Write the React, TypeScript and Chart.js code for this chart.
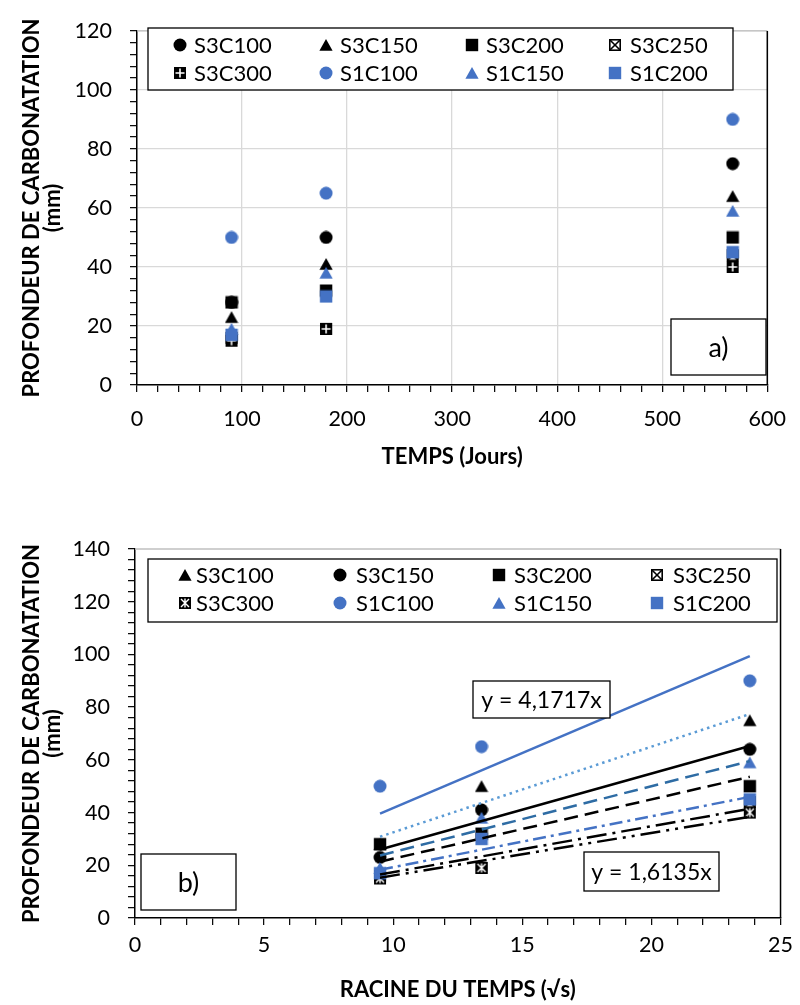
import React, { useEffect, useRef } from 'react';
import { Chart, registerables } from 'chart.js';

Chart.register(...registerables);

const FONT = 'Lato, "Open Sans", "DejaVu Sans", sans-serif';

// ---------- data ----------
const seriesNames = ['S3C100', 'S3C150', 'S3C200', 'S3C250', 'S3C300', 'S1C100', 'S1C150', 'S1C200'];
const timeDays = [90, 180, 567];
const rootTime = [9.49, 13.42, 23.81];

const s3c100 = [28, 50, 75];
const s3c150 = [23, 41, 64];
const s3c200 = [28, 32, 50];
const s3c250 = [16, 19, 44];
const s3c300 = [15, 19, 40];
const s1c100 = [50, 65, 90];
const s1c150 = [19, 38, 59];
const s1c200 = [17, 30, 45];
const seriesValues = [s3c100, s3c150, s3c200, s3c250, s3c300, s1c100, s1c150, s1c200];

// linear trend lines through origin (chart b)
const trendSlopes = [3.25, 2.74, 2.25, 1.74, 1.6135, 4.1717, 2.5, 1.93];

const xTickLabelsA = [0, 100, 200, 300, 400, 500, 600];
const yTickLabelsA = [0, 20, 40, 60, 80, 100, 120];
const xTickLabelsB = [0, 5, 10, 15, 20, 25];
const yTickLabelsB = [0, 20, 40, 60, 80, 100, 120, 140];

const BLUE = '#4472C4';
const seriesColors = ['#000', '#000', '#000', '#000', '#000', BLUE, BLUE, BLUE];
const markersA = ['circle', 'triangle', 'square', 'xbox', 'plusbox', 'circle', 'triangle', 'square'];
const markersB = ['triangle', 'circle', 'square', 'xbox', 'starbox', 'circle', 'triangle', 'square'];

const trendStyles = [
  { color: '#5B9BD5', dash: [2.5, 4] },
  { color: '#000000', dash: [] },
  { color: '#000000', dash: [14, 7] },
  { color: '#000000', dash: [20, 6, 3, 6] },
  { color: '#000000', dash: [20, 6, 3, 6, 3, 6] },
  { color: BLUE, dash: [] },
  { color: '#2E6CA4', dash: [14, 7] },
  { color: BLUE, dash: [13, 5, 3, 5] },
];

// ---------- markers ----------
function makeMarker(kind: string, color: string): HTMLCanvasElement {
  const S = 14;
  const c = document.createElement('canvas');
  c.width = S;
  c.height = S;
  const g = c.getContext('2d') as CanvasRenderingContext2D;
  const m = S / 2;
  g.fillStyle = color;
  g.strokeStyle = color;
  if (kind === 'circle') {
    g.beginPath();
    g.arc(m, m, 6.5, 0, Math.PI * 2);
    g.fill();
  } else if (kind === 'triangle') {
    g.beginPath();
    g.moveTo(m, 1);
    g.lineTo(13.6, 12.7);
    g.lineTo(0.4, 12.7);
    g.closePath();
    g.fill();
  } else if (kind === 'square') {
    g.fillRect(0.8, 0.8, 12.4, 12.4);
  } else if (kind === 'xbox') {
    g.fillStyle = '#fff';
    g.fillRect(1, 1, 12, 12);
    g.strokeStyle = '#000';
    g.lineWidth = 1.6;
    g.strokeRect(1.8, 1.8, 10.4, 10.4);
    g.beginPath();
    g.moveTo(2.2, 2.2);
    g.lineTo(11.8, 11.8);
    g.moveTo(11.8, 2.2);
    g.lineTo(2.2, 11.8);
    g.stroke();
  } else if (kind === 'plusbox') {
    g.fillStyle = '#000';
    g.fillRect(1, 1, 12, 12);
    g.strokeStyle = '#fff';
    g.lineWidth = 1.6;
    g.beginPath();
    g.moveTo(7, 2.5);
    g.lineTo(7, 11.5);
    g.moveTo(2.5, 7);
    g.lineTo(11.5, 7);
    g.stroke();
  } else if (kind === 'starbox') {
    g.fillStyle = '#000';
    g.fillRect(1, 1, 12, 12);
    g.strokeStyle = '#fff';
    g.lineWidth = 1.4;
    g.beginPath();
    g.moveTo(3, 3);
    g.lineTo(11, 11);
    g.moveTo(11, 3);
    g.lineTo(3, 11);
    g.moveTo(7, 2.5);
    g.lineTo(7, 11.5);
    g.stroke();
  }
  return c;
}

// ---------- drawing helpers ----------
function drawBoxText(ctx: CanvasRenderingContext2D, x0: number, y0: number, x1: number, y1: number, text: string, size: number) {
  ctx.save();
  ctx.fillStyle = '#fff';
  ctx.fillRect(x0, y0, x1 - x0, y1 - y0);
  ctx.strokeStyle = '#000';
  ctx.lineWidth = 1.3;
  ctx.strokeRect(x0, y0, x1 - x0, y1 - y0);
  ctx.fillStyle = '#000';
  ctx.font = `${size}px ${FONT}`;
  ctx.textAlign = 'center';
  ctx.textBaseline = 'middle';
  ctx.fillText(text, (x0 + x1) / 2, (y0 + y1) / 2 + 1);
  ctx.restore();
}

type LegendSpec = {
  box: [number, number, number, number];
  rows: number[];
  markerX: number[];
  textX: number[];
  markers: HTMLCanvasElement[];
};

function drawLegend(ctx: CanvasRenderingContext2D, spec: LegendSpec) {
  const [x0, y0, x1, y1] = spec.box;
  ctx.save();
  ctx.fillStyle = '#fff';
  ctx.fillRect(x0, y0, x1 - x0, y1 - y0);
  ctx.strokeStyle = '#000';
  ctx.lineWidth = 1.3;
  ctx.strokeRect(x0, y0, x1 - x0, y1 - y0);
  ctx.font = `22px ${FONT}`;
  ctx.fillStyle = '#000';
  ctx.textAlign = 'left';
  ctx.textBaseline = 'middle';
  seriesNames.forEach((name, i) => {
    const r = Math.floor(i / 4);
    const c = i % 4;
    const mk = spec.markers[i];
    const cy = spec.rows[r];
    ctx.drawImage(mk, spec.markerX[c] - mk.width / 2, cy - mk.height / 2);
    ctx.fillText(name, spec.textX[c], cy + 1);
  });
  ctx.restore();
}

function drawFrame(chart: any) {
  const { ctx, chartArea } = chart;
  ctx.save();
  ctx.lineWidth = 1.3;
  ctx.strokeStyle = '#BFBFBF';
  ctx.beginPath();
  ctx.moveTo(chartArea.left, chartArea.top);
  ctx.lineTo(chartArea.right, chartArea.top);
  ctx.stroke();
  ctx.strokeStyle = '#000';
  ctx.lineWidth = 1.5;
  ctx.beginPath();
  ctx.moveTo(chartArea.right, chartArea.top);
  ctx.lineTo(chartArea.right, chartArea.bottom);
  ctx.stroke();
  ctx.restore();
}

function yTitle(): any {
  return {
    display: true,
    text: ['PROFONDEUR DE CARBONATATION', '(mm)'],
    color: '#000',
    font: { family: FONT, size: 22, weight: 'bold', lineHeight: 0.95 },
    padding: { top: 21.5, bottom: 0 },
  };
}

function xTitle(text: string, padBottom: number): any {
  return {
    display: true,
    text,
    color: '#000',
    font: { family: FONT, size: 22, weight: 'bold', lineHeight: 1.05 },
    padding: { top: 0, bottom: padBottom },
  };
}

function axis(min: number, max: number, step: number, labels: number[], width: number | null, height: number | null, gridOn: boolean, tickPad: number, title: any): any {
  return {
    type: 'linear',
    min,
    max,
    border: { color: '#000', width: 1.5 },
    grid: {
      drawOnChartArea: gridOn,
      color: (ctx: any) => (ctx.tick && labels.includes(Math.round(ctx.tick.value * 1000) / 1000) ? '#D9D9D9' : 'rgba(0,0,0,0)'),
      lineWidth: 1.3,
      tickColor: '#000',
      tickLength: 7,
      tickWidth: 1.2,
    },
    ticks: {
      stepSize: step,
      maxTicksLimit: 1000,
      autoSkip: false,
      maxRotation: 0,
      minRotation: 0,
      padding: tickPad,
      color: '#000',
      font: { family: FONT, size: 21.5 },
      callback: (v: any) => {
        const n = Math.round(Number(v) * 1000) / 1000;
        return labels.includes(n) ? String(n) : '';
      },
    },
    title,
    afterFit: (scale: any) => {
      if (width !== null) scale.width = width;
      if (height !== null) scale.height = height;
    },
  };
}

// ---------- chart A ----------
function ChartA() {
  const ref = useRef<HTMLCanvasElement>(null);
  useEffect(() => {
    const mk = markersA.map((k, i) => makeMarker(k, seriesColors[i]));
    const datasets = seriesNames.map((name, i) => ({
      label: name,
      data: timeDays.map((x, j) => ({ x, y: seriesValues[i][j] })),
      pointStyle: mk[i],
      pointRadius: 6,
      backgroundColor: seriesColors[i],
      borderColor: seriesColors[i],
      order: 100 - i,
    }));
    const plugin = {
      id: 'decorA',
      afterDraw(chart: any) {
        drawFrame(chart);
        drawLegend(chart.ctx, {
          box: [148, 28, 733, 90],
          rows: [45, 73],
          markerX: [180, 326, 472, 615],
          textX: [194, 340, 486, 630],
          markers: mk,
        });
        drawBoxText(chart.ctx, 671, 319, 766, 375, 'a)', 27);
      },
    };
    const chart = new Chart(ref.current as HTMLCanvasElement, {
      type: 'scatter',
      data: { datasets },
      options: {
        responsive: false,
        animation: false,
        devicePixelRatio: 1,
        layout: { padding: { top: 20, right: 23, left: 0, bottom: 0 } },
        plugins: { legend: { display: false }, tooltip: { enabled: false } },
        scales: {
          x: axis(0, 600, 20, xTickLabelsA, null, 115, true, 14, xTitle('TEMPS (Jours)', 31.5)),
          y: axis(0, 120, 4, yTickLabelsA, 137, null, true, 18, yTitle()),
        },
      } as any,
      plugins: [plugin],
    });
    return () => chart.destroy();
  }, []);
  return <canvas ref={ref} width={800} height={500} style={{ position: 'absolute', left: 0, top: 0, width: 800, height: 500 }} />;
}

// ---------- chart B ----------
function ChartB() {
  const ref = useRef<HTMLCanvasElement>(null);
  useEffect(() => {
    const mk = markersB.map((k, i) => makeMarker(k, seriesColors[i]));
    const pointSets = seriesNames.map((name, i) => ({
      label: name,
      data: rootTime.map((x, j) => ({ x, y: seriesValues[i][j] })),
      pointStyle: mk[i],
      pointRadius: 6,
      backgroundColor: seriesColors[i],
      borderColor: seriesColors[i],
      order: 100 - i,
    }));
    const xFirst = rootTime[0];
    const xLast = rootTime[rootTime.length - 1];
    const trendSets = trendSlopes.map((a, i) => ({
      label: 'trend ' + seriesNames[i],
      data: [
        { x: xFirst, y: a * xFirst },
        { x: xLast, y: a * xLast },
      ],
      showLine: true,
      pointRadius: 0,
      borderColor: trendStyles[i].color,
      borderDash: trendStyles[i].dash,
      borderWidth: 2.5,
      borderCapStyle: 'butt',
      order: 20 - i,
    }));
    const eqTop = 'y = ' + String(trendSlopes[5]).replace('.', ',') + 'x';
    const eqBottom = 'y = ' + String(trendSlopes[4]).replace('.', ',') + 'x';
    const plugin = {
      id: 'decorB',
      afterDraw(chart: any) {
        drawFrame(chart);
        drawLegend(chart.ctx, {
          box: [148, 59, 777, 122],
          rows: [75, 103],
          markerX: [185, 340, 499, 657],
          textX: [196, 356, 514, 673],
          markers: mk,
        });
        drawBoxText(chart.ctx, 141, 354, 236, 410, 'b)', 27);
        drawBoxText(chart.ctx, 473, 181, 610, 218, eqTop, 23);
        drawBoxText(chart.ctx, 584, 352, 719, 391, eqBottom, 23);
      },
    };
    const chart = new Chart(ref.current as HTMLCanvasElement, {
      type: 'scatter',
      data: { datasets: [...trendSets, ...pointSets] as any },
      options: {
        responsive: false,
        animation: false,
        devicePixelRatio: 1,
        layout: { padding: { top: 49, right: 14, left: 0, bottom: 0 } },
        plugins: { legend: { display: false }, tooltip: { enabled: false } },
        scales: {
          x: axis(0, 25, 1, xTickLabelsB, null, 87, false, 7, xTitle('RACINE DU TEMPS (√s)', 3.5)),
          y: axis(0, 140, 4, yTickLabelsB, 135, null, false, 18, yTitle()),
        },
      } as any,
      plugins: [plugin],
    });
    return () => chart.destroy();
  }, []);
  return <canvas ref={ref} width={800} height={505} style={{ position: 'absolute', left: 0, top: 500, width: 800, height: 505 }} />;
}

export default function App() {
  return (
    <div style={{ position: 'absolute', left: 0, top: 0, width: 800, height: 1005, background: '#fff', overflow: 'hidden' }}>
      <ChartA />
      <ChartB />
    </div>
  );
}
